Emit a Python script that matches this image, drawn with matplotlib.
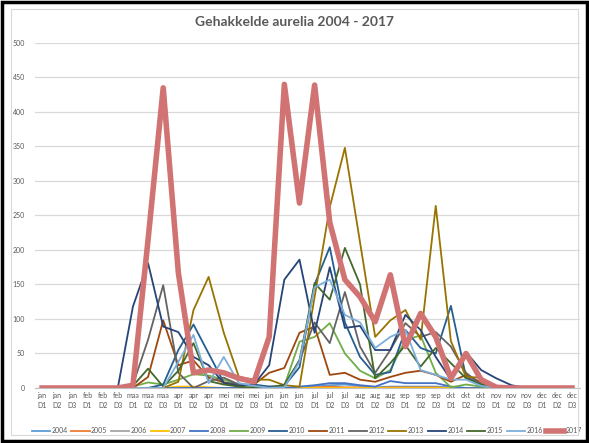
import matplotlib
matplotlib.use("Agg")
import matplotlib.pyplot as plt
from matplotlib.patches import Rectangle

plt.rcParams['font.family'] = ['Lato', 'DejaVu Sans']

months = ['jan', 'feb', 'maa', 'apr', 'mei', 'jun', 'jul', 'aug', 'sep', 'okt', 'nov', 'dec']
categories = [f'{m}\nD{d}' for m in months for d in (1, 2, 3)]

years = ['2004', '2005', '2006', '2007', '2008', '2009', '2010',
         '2011', '2012', '2013', '2014', '2015', '2016', '2017']

#            jan       feb       maa          apr          mei         jun           jul            aug           sep           okt          nov      dec
y2004 = [0, 0, 0, 0, 0, 0, 0, 0, 0, 0, 0, 0, 0, 0, 0, 0, 0, 0, 3, 4, 5, 3, 1, 2, 2, 2, 2, 1, 0, 0, 0, 0, 0, 0, 0, 0]
y2005 = [0, 0, 0, 0, 0, 0, 0, 0, 0, 0, 0, 0, 0, 0, 0, 0, 0, 0, 1, 2, 1, 1, 0, 1, 1, 1, 1, 0, 0, 0, 0, 0, 0, 0, 0, 0]
y2006 = [0] * 36
y2007 = [0, 0, 0, 0, 0, 0, 0, 0, 0, 2, 2, 1, 0, 0, 0, 0, 0, 0, 0, 0, 0, 0, 0, 0, 0, 0, 0, 0, 0, 0, 0, 0, 0, 0, 0, 0]
y2008 = [0, 0, 0, 0, 0, 0, 0, 0, 0, 0, 0, 0, 0, 0, 0, 0, 0, 2, 4, 7, 7, 4, 2, 10, 7, 7, 7, 2, 0, 0, 0, 0, 0, 0, 0, 0]
y2009 = [0, 0, 0, 0, 0, 0, 2, 8, 5, 12, 20, 18, 12, 5, 3, 2, 3, 67, 74, 94, 50, 25, 14, 26, 70, 76, 22, 1, 5, 2, 0, 0, 0, 0, 0, 0]
y2010 = [0, 0, 0, 0, 0, 0, 0, 0, 5, 55, 92, 50, 8, 5, 5, 2, 3, 30, 150, 204, 95, 45, 19, 23, 84, 58, 50, 119, 16, 5, 0, 0, 0, 0, 0, 0]
y2011 = [0, 0, 0, 0, 0, 0, 0, 16, 98, 33, 40, 15, 8, 3, 5, 22, 29, 80, 89, 19, 22, 12, 9, 16, 22, 25, 19, 9, 19, 8, 0, 0, 0, 0, 0, 0]
y2012 = [0, 0, 0, 0, 0, 0, 5, 70, 149, 22, 0, 10, 15, 5, 3, 0, 2, 40, 95, 65, 139, 60, 22, 55, 94, 74, 81, 60, 22, 5, 0, 0, 0, 0, 0, 0]
y2013 = [0, 0, 0, 0, 0, 0, 0, 0, 0, 9, 113, 161, 80, 16, 12, 12, 4, 2, 132, 262, 348, 211, 74, 98, 113, 70, 264, 68, 16, 15, 0, 0, 0, 0, 0, 0]
y2014 = [0, 0, 0, 0, 0, 0, 118, 181, 89, 81, 45, 33, 7, 3, 5, 33, 157, 186, 80, 175, 87, 90, 55, 55, 106, 84, 45, 12, 52, 26, 14, 4, 0, 0, 0, 0]
y2015 = [0, 0, 0, 0, 0, 0, 3, 28, 2, 25, 65, 10, 5, 2, 0, 0, 5, 40, 152, 128, 203, 150, 14, 36, 62, 31, 58, 36, 14, 5, 0, 0, 0, 0, 0, 0]
y2016 = [0, 0, 0, 0, 0, 0, 0, 0, 0, 38, 77, 7, 45, 7, 3, 0, 1, 38, 146, 157, 106, 95, 58, 74, 84, 26, 19, 12, 12, 3, 0, 0, 0, 0, 0, 0]
y2017 = [0, 0, 0, 0, 0, 0, 4, 215, 435, 167, 22, 26, 22, 14, 9, 74, 440, 268, 439, 240, 157, 132, 96, 164, 60, 108, 74, 14, 50, 12, 1, 0, 0, 0, 0, 0]

series = [y2004, y2005, y2006, y2007, y2008, y2009, y2010,
          y2011, y2012, y2013, y2014, y2015, y2016, y2017]

colors = ['#5B9BD5', '#ED7D31', '#A5A5A5', '#FFC000', '#4472C4', '#70AD47', '#255E91',
          '#9E480E', '#636363', '#997300', '#264478', '#43682B', '#7CAFDD', '#D27373']

fig = plt.figure(figsize=(5.89, 4.43), dpi=100)
ax = fig.add_axes([0.0586, 0.1242, 0.9254, 0.7788])

x = list(range(len(categories)))
for i, (yr, vals) in enumerate(zip(years, series)):
    if yr == '2017':
        ax.plot(x, vals, color=colors[i], lw=4, label=yr, zorder=5, solid_joinstyle='round')
    else:
        ax.plot(x, vals, color=colors[i], lw=1.3, label=yr, zorder=3)

ax.set_xlim(-0.5, len(categories) - 0.5)
ax.set_ylim(0, 500)
ax.set_yticks(range(0, 501, 50))
ax.set_xticks(x)
ax.set_xticklabels(categories, fontsize=5, color='#595959', linespacing=1.5)
ax.tick_params(axis='y', labelsize=5, colors='#595959', length=0, pad=7)
ax.tick_params(axis='x', length=0, pad=3)
ax.grid(axis='y', color='#D9D9D9', lw=0.9, zorder=0)
for s in ['top', 'right', 'left']:
    ax.spines[s].set_visible(False)
ax.spines['bottom'].set_color('#BFBFBF')

fig.suptitle('Gehakkelde aurelia 2004 - 2017', x=0.5, y=0.965, fontsize=10,
             fontweight='bold', color='#595959')

leg = ax.legend(loc='upper center', bbox_to_anchor=(0.5, -0.095), ncol=14, frameon=False,
                fontsize=5, handlelength=2.6, handletextpad=0.2, columnspacing=0.55,
                labelcolor='#595959')

# chart frame: black outer border and light gray inner border
fig.patches.append(Rectangle((0.003, 0.004), 0.994, 0.992, transform=fig.transFigure,
                             fill=False, edgecolor='black', lw=2.5))
fig.patches.append(Rectangle((0.019, 0.018), 0.963, 0.962, transform=fig.transFigure,
                             fill=False, edgecolor='#D9D9D9', lw=0.8))

fig.savefig('out.png', dpi=100)
